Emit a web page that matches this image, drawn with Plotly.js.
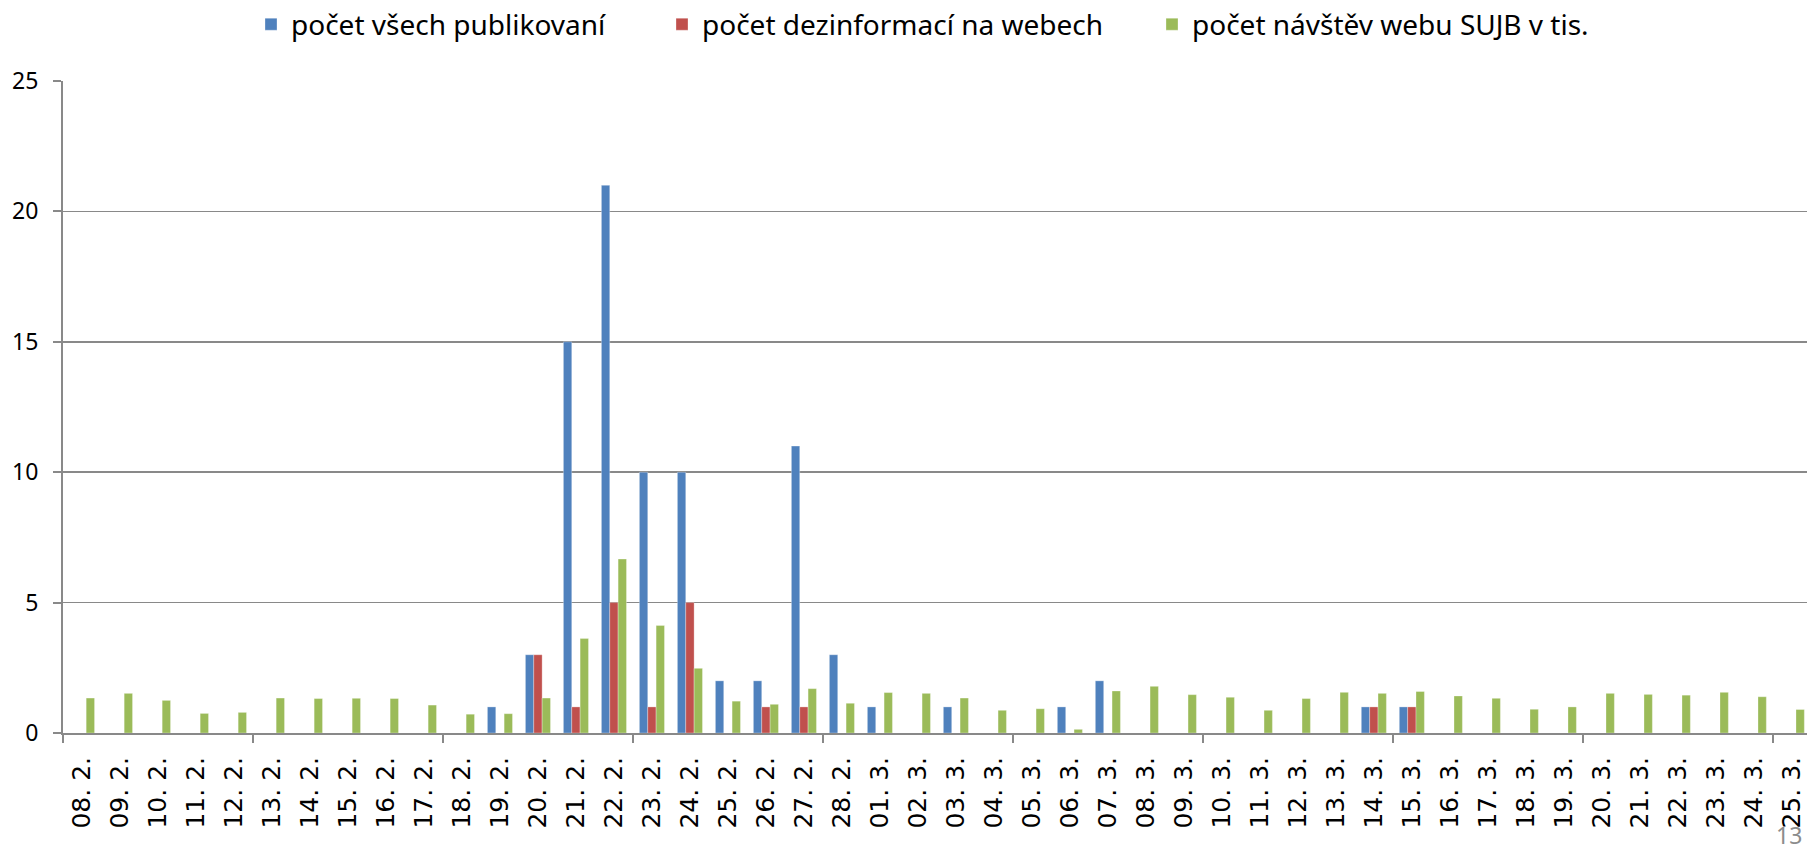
<!DOCTYPE html>
<html>
<head>
<meta charset="utf-8">
<script src="https://cdn.plot.ly/plotly-3.0.1.min.js"></script>
<style>html,body{margin:0;padding:0;background:#fff;}#chart{width:1807px;height:852px;}</style>
</head>
<body>
<div id="chart"></div>
<script>
const categories = ["08. 2.","09. 2.","10. 2.","11. 2.","12. 2.","13. 2.","14. 2.","15. 2.","16. 2.","17. 2.","18. 2.","19. 2.","20. 2.","21. 2.","22. 2.","23. 2.","24. 2.","25. 2.","26. 2.","27. 2.","28. 2.",
"01. 3.","02. 3.","03. 3.","04. 3.","05. 3.","06. 3.","07. 3.","08. 3.","09. 3.","10. 3.","11. 3.","12. 3.","13. 3.","14. 3.","15. 3.","16. 3.","17. 3.","18. 3.","19. 3.","20. 3.","21. 3.","22. 3.","23. 3.","24. 3.","25. 3."];

const seriesNames = ["počet všech publikovaní","počet dezinformací na webech","počet návštěv webu SUJB v tis."];

const publikovani = [0,0,0,0,0,0,0,0,0,0,0,1,3,15,21,10,10,2,2,11,3,
1,0,1,0,0,1,2,0,0,0,0,0,0,1,1,0,0,0,0,0,0,0,0,0,0];

const dezinformace = [0,0,0,0,0,0,0,0,0,0,0,0,3,1,5,1,5,0,1,1,0,
0,0,0,0,0,0,0,0,0,0,0,0,0,1,1,0,0,0,0,0,0,0,0,0,0];

const navstevy = [1.34,1.52,1.25,0.75,0.79,1.34,1.32,1.33,1.32,1.07,0.72,0.74,1.34,3.62,6.67,4.12,2.48,1.22,1.10,1.70,1.14,
1.55,1.52,1.34,0.87,0.93,0.14,1.61,1.79,1.47,1.37,0.87,1.32,1.56,1.52,1.59,1.42,1.33,0.91,1.00,1.52,1.48,1.45,1.56,1.39,0.90];

const yTicks = [0,5,10,15,20,25];
const pageNumber = "13";

const colors = ["#4F81BD","#C0504D","#9BBB59"];
const values = [publikovani, dezinformace, navstevy];
const legendIds = ["legend","legend2","legend3"];
const legendX = [251, 662, 1152]; // px positions of each legend entry

const traces = values.map((v, i) => ({
  type: "bar",
  name: seriesNames[i],
  x: categories,
  y: v,
  legend: legendIds[i],
  marker: {color: colors[i], line: {color: "rgba(255,255,255,0.6)", width: 0.5}},
  hoverinfo: "x+y+name"
}));

// boundary tick marks every 5 categories
const boundaryTicks = [];
for (let i = 0; i < categories.length; i += 5) boundaryTicks.push(i - 0.5);
traces.push({type: "scatter", x: [], y: [], xaxis: "x2", yaxis: "y", showlegend: false, hoverinfo: "skip"});

const lastRange = categories.length - 0.6;
const W = 1807, H = 852;

function legendCfg(px) {
  return {
    orientation: "h", xref: "container", x: px / W, xanchor: "left",
    yref: "container", y: 1 - 24.5 / H, yanchor: "middle",
    font: {family: "Noto Sans, sans-serif", size: 28, color: "#000"},
    itemwidth: 30, bgcolor: "rgba(0,0,0,0)"
  };
}

const layout = {
  width: W, height: H,
  margin: {l: 63, r: 0, t: 81, b: 119, autoexpand: false},
  paper_bgcolor: "#fff", plot_bgcolor: "#fff",
  barmode: "group", bargap: 0.34, bargroupgap: 0,
  font: {family: "DejaVu Sans, sans-serif", color: "#000"},
  showlegend: true,
  legend: legendCfg(legendX[0]),
  legend2: legendCfg(legendX[1]),
  legend3: legendCfg(legendX[2]),
  xaxis: {
    type: "category", range: [-0.5, lastRange],
    tickangle: -90, ticks: "", ticklabelstandoff: 12,
    tickfont: {family: "DejaVu Sans, sans-serif", size: 25, color: "#000"},
    showgrid: false, showline: true, linecolor: "#898989", linewidth: 2,
    zeroline: false, fixedrange: true
  },
  xaxis2: {
    overlaying: "x", anchor: "y", side: "bottom",
    range: [-0.5, lastRange], tickmode: "array", tickvals: boundaryTicks,
    ticks: "outside", ticklen: 9, tickwidth: 2, tickcolor: "#898989",
    showticklabels: false, showgrid: false, showline: false, zeroline: false
  },
  yaxis: {
    range: [0, 25], tickmode: "array", tickvals: yTicks,
    ticks: "outside", ticklen: 8, tickwidth: 2, tickcolor: "#898989",
    ticklabelstandoff: 10,
    tickfont: {family: "Noto Sans, sans-serif", size: 23, color: "#000"},
    showgrid: true, gridcolor: "#898989", gridwidth: 1.5,
    showline: true, linecolor: "#898989", linewidth: 2,
    zeroline: false, fixedrange: true
  },
  annotations: [{
    text: pageNumber, xref: "paper", yref: "paper", x: 0.998, y: -0.157,
    xanchor: "right", yanchor: "middle", showarrow: false,
    font: {family: "Noto Sans, sans-serif", size: 23, color: "#8C8C8C"}
  }]
};

Plotly.newPlot("chart", traces, layout, {displayModeBar: false, staticPlot: true});
</script>
</body>
</html>
